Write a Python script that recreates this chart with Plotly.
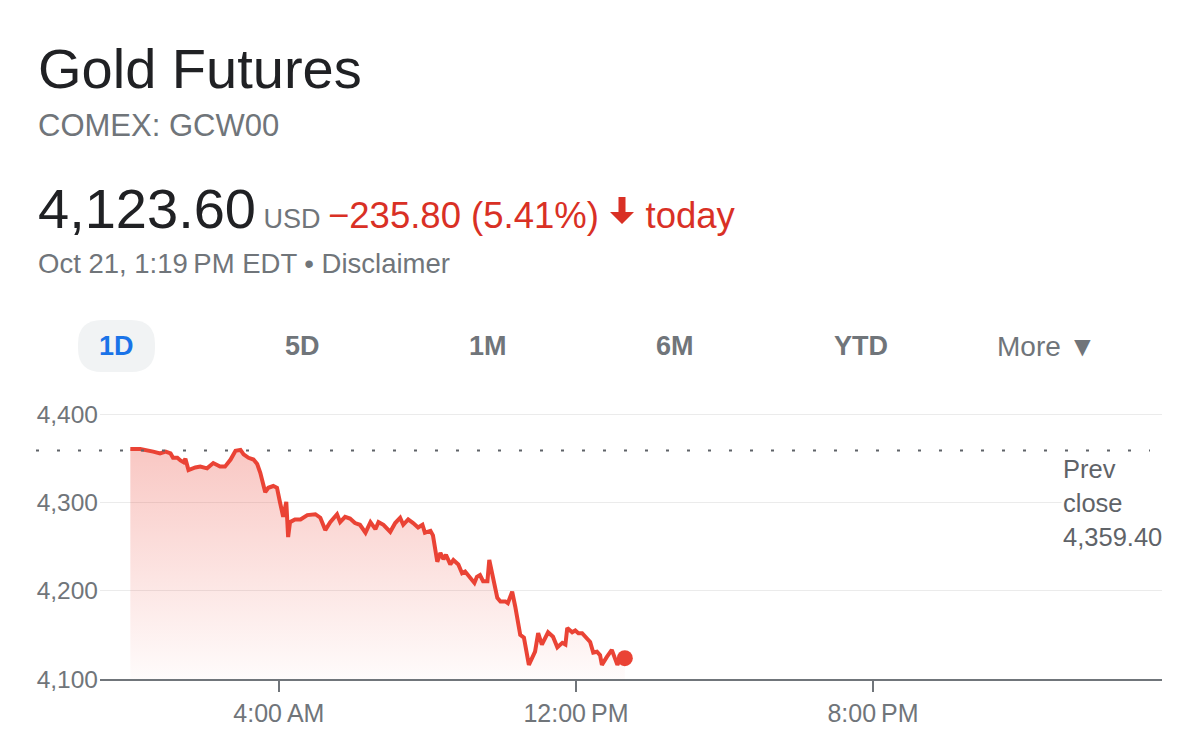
import pandas as pd
import plotly.graph_objects as go

# intraday quotes, Oct 21 (EDT)
TIMES = [
    "00:00", "00:16", "00:37", "00:48", "00:57", "01:05", "01:09", "01:16", "01:21", "01:26",
    "01:29", "01:34", "01:45", "01:53", "02:04", "02:14", "02:25", "02:33", "02:42", "02:50",
    "02:58", "03:03", "03:11", "03:19", "03:25", "03:30", "03:38", "03:43", "03:51", "03:57",
    "04:02", "04:07", "04:12", "04:15", "04:18", "04:26", "04:35", "04:46", "04:59", "05:07",
    "05:15", "05:23", "05:34", "05:39", "05:47", "05:55", "06:03", "06:11", "06:20", "06:28",
    "06:36", "06:41", "06:49", "07:00", "07:08", "07:16", "07:21", "07:29", "07:37", "07:45",
    "07:52", "07:56", "08:05", "08:09", "08:16", "08:21", "08:26", "08:30", "08:37", "08:42",
    "08:50", "08:56", "09:01", "09:09", "09:16", "09:20", "09:25", "09:30", "09:37", "09:40",
    "09:46", "09:53", "09:58", "10:06", "10:10", "10:17", "10:22", "10:30", "10:36", "10:44",
    "10:54", "10:59", "11:05", "11:15", "11:23", "11:30", "11:38", "11:43", "11:46", "11:54",
    "11:59", "12:04", "12:10", "12:15", "12:23", "12:28", "12:34", "12:39", "12:42", "12:50",
    "12:58", "13:07", "13:11", "13:19",
]
PRICES = [
    4361, 4361, 4358, 4356, 4358, 4356, 4351, 4351, 4348, 4346,
    4350, 4337, 4340, 4341, 4339, 4345, 4341, 4341, 4349, 4359,
    4360, 4355, 4351, 4349, 4344, 4334, 4312, 4317, 4319, 4317,
    4300, 4284, 4301, 4261, 4278, 4281, 4281, 4286, 4287, 4283,
    4269, 4278, 4287, 4278, 4284, 4282, 4277, 4275, 4266, 4278,
    4270, 4278, 4275, 4267, 4277, 4283, 4275, 4281, 4277, 4272,
    4275, 4266, 4268, 4263, 4233, 4243, 4236, 4241, 4230, 4235,
    4230, 4220, 4222, 4215, 4209, 4216, 4218, 4211, 4211, 4235,
    4216, 4192, 4188, 4188, 4186, 4199, 4182, 4150, 4147, 4116,
    4131, 4152, 4139, 4153, 4148, 4136, 4141, 4139, 4158, 4153,
    4155, 4152, 4152, 4148, 4142, 4130, 4131, 4127, 4116, 4125,
    4133, 4116, 4122, 4123.6,
]
PREV_CLOSE = 4359.40
Y_TICKS = [4100, 4200, 4300, 4400]
Y_TICK_TEXT = ["4,100", "4,200", "4,300", "4,400"]
X_TICKS = ["2025-10-21 04:00", "2025-10-21 12:00", "2025-10-21 20:00"]
X_TICK_TEXT = ["4:00\u2009AM", "12:00\u2009PM", "8:00\u2009PM"]
TABS = ["1D", "5D", "1M", "6M", "YTD"]

FONT = "Liberation Sans, Arial, sans-serif"
RED = "#d93025"
LINE_RED = "#ea4335"
GRAY = "#70757a"
DARK = "#202124"

# page body adds an 8px offset, so the figure is laid out in page coords minus 8
OFF = 8
W, H = 1199 - OFF, 755 - OFF
PL, PR, PT, PB = 100, 1162, 397, 679   # plot area in page pixels


def px(x):
    return (x - PL) / (PR - PL)


def py(y):
    return (PB - y) / (PB - PT)


times = pd.to_datetime(["2025-10-21 " + t for t in TIMES])

fig = go.Figure()
fig.add_trace(go.Scatter(
    x=times, y=PRICES,
    mode="lines",
    line=dict(color=LINE_RED, width=4),
    fill="tozeroy",
    fillgradient=dict(
        type="vertical",
        start=4100, stop=4365,
        colorscale=[[0, "rgba(234,67,53,0.02)"], [1, "rgba(234,67,53,0.30)"]],
    ),
    hoverinfo="skip",
    showlegend=False,
))
fig.add_trace(go.Scatter(
    x=[times[-1]], y=[PRICES[-1]],
    mode="markers",
    marker=dict(color=LINE_RED, size=16),
    hoverinfo="skip",
    showlegend=False,
))

# prev close dotted line
fig.add_shape(
    type="line", xref="paper", yref="y",
    x0=px(36), x1=px(1150), y0=PREV_CLOSE, y1=PREV_CLOSE,
    line=dict(color="#5f6368", width=2, dash="3px,18px"),
)

annotations = []


def add_text(x, y, text, size, color, anchor="left", **kw):
    annotations.append(dict(
        xref="paper", yref="paper", x=px(x), y=py(y),
        xanchor=anchor, yanchor="middle", showarrow=False,
        text=text, font=dict(family=FONT, size=size, color=color), **kw,
    ))


add_text(36, 68, "Gold Futures", 56, DARK)
add_text(36, 125, "COMEX: GCW00", 31, GRAY)
add_text(
    36, 208,
    "4,123.60"
    f"<span style='font-size:27px;color:{GRAY}'> USD </span>"
    f"<span style='font-size:36.5px;color:{RED}'>\u2212235.80 (5.41%)\u2003 today</span>",
    56, DARK,
)
add_text(36, 263, "Oct 21, 1:19\u2009PM EDT \u2022 Disclaimer", 27.5, GRAY)

# down arrow next to the change
ax0, ax1, ay0, ay1 = 610, 634, 197, 224
mid = (ax0 + ax1) / 2
arrow = (
    f"M {px(mid - 3.5)} {py(ay0)} L {px(mid + 3.5)} {py(ay0)} L {px(mid + 3.5)} {py(ay1 - 12)} "
    f"L {px(ax1)} {py(ay1 - 12)} L {px(mid)} {py(ay1)} L {px(ax0)} {py(ay1 - 12)} "
    f"L {px(mid - 3.5)} {py(ay1 - 12)} Z"
)
fig.add_shape(type="path", xref="paper", yref="paper", path=arrow,
              fillcolor=RED, line=dict(width=0))

# range tabs
tab_x = [116, 302, 488, 675, 861]
for name, x in zip(TABS, tab_x):
    add_text(x, 346, f"<b>{name}</b>", 27, "#1a73e8" if name == "1D" else GRAY, anchor="center")
add_text(1046, 346, "More \u25BC", 28, GRAY, anchor="center")

# pill behind active tab
x0, x1, y0, y1, rr = 78, 155, 320, 372, 24
pill = (
    f"M {px(x0 + rr)} {py(y0)} L {px(x1 - rr)} {py(y0)} "
    f"Q {px(x1)} {py(y0)} {px(x1)} {py(y0 + rr)} L {px(x1)} {py(y1 - rr)} "
    f"Q {px(x1)} {py(y1)} {px(x1 - rr)} {py(y1)} L {px(x0 + rr)} {py(y1)} "
    f"Q {px(x0)} {py(y1)} {px(x0)} {py(y1 - rr)} L {px(x0)} {py(y0 + rr)} "
    f"Q {px(x0)} {py(y0)} {px(x0 + rr)} {py(y0)} Z"
)
fig.add_shape(type="path", xref="paper", yref="paper", path=pill,
              fillcolor="#f1f3f4", line=dict(width=0), layer="below")

# prev close label
for text, y in [("Prev", 469), ("close", 503), ("4,359.40", 537)]:
    add_text(1061, y, text, 25.5, "#5f6368", bgcolor="white", width=104, align="left")

fig.update_layout(
    width=W, height=H,
    margin=dict(l=PL - OFF, r=W - (PR - OFF), t=PT - OFF, b=H - (PB - OFF)),
    paper_bgcolor="white",
    plot_bgcolor="white",
    font=dict(family=FONT, color=GRAY),
    annotations=annotations,
    xaxis=dict(
        range=["2025-10-20 23:11", "2025-10-22 03:47"],
        tickvals=pd.to_datetime(X_TICKS),
        ticktext=X_TICK_TEXT,
        tickfont=dict(size=25, color=GRAY),
        showgrid=False,
        showline=True, linecolor=GRAY, linewidth=2,
        ticks="outside", ticklen=11, tickwidth=2, tickcolor=GRAY,
        zeroline=False,
        fixedrange=True,
    ),
    yaxis=dict(
        range=[4100, 4420],
        tickvals=Y_TICKS,
        ticktext=Y_TICK_TEXT,
        tickfont=dict(size=24.5, color=GRAY),
        showgrid=True, gridcolor="#ebebeb", gridwidth=1,
        showline=False, zeroline=False,
        ticks="", ticklabelstandoff=1,
        fixedrange=True,
    ),
    showlegend=False,
)

fig.write_html("out.html", config={"displayModeBar": False})
